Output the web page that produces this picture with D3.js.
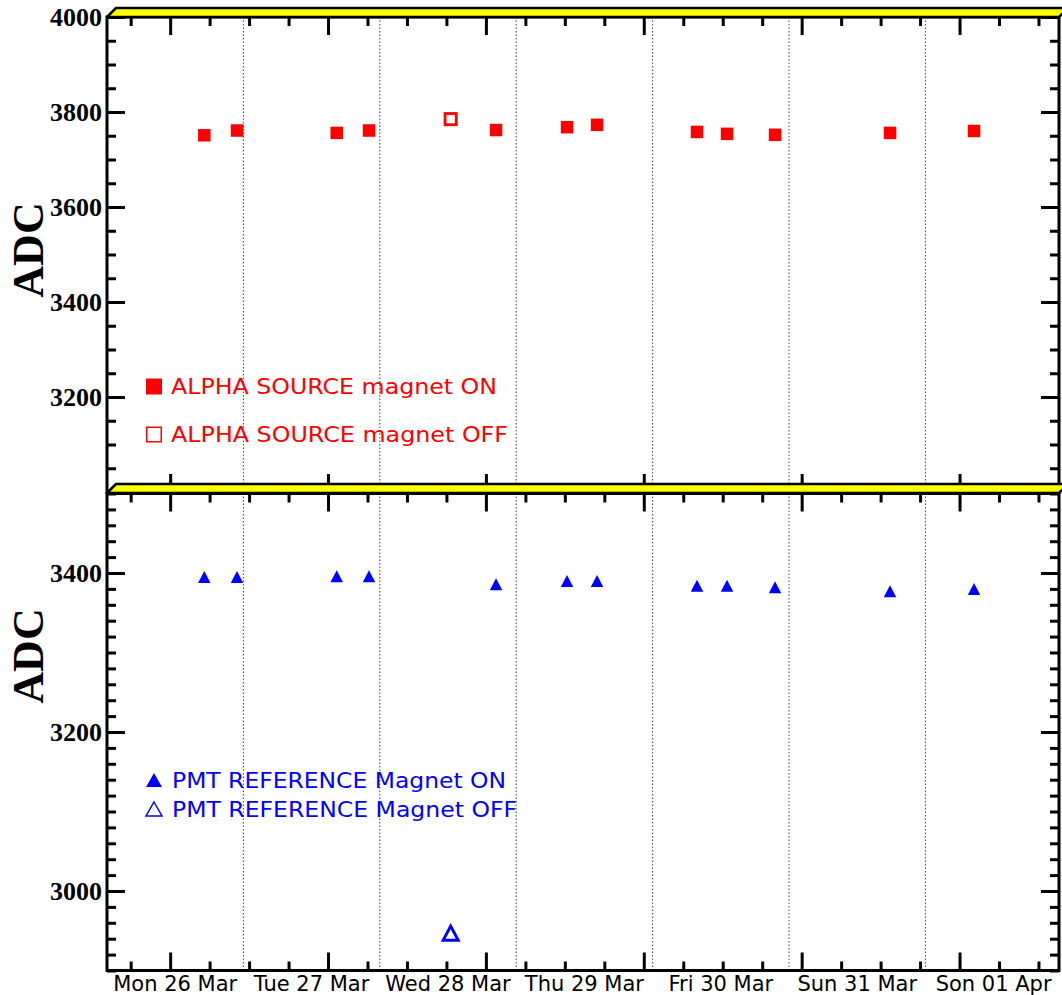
<!DOCTYPE html>
<html><head><meta charset="utf-8">
<script src="https://cdn.jsdelivr.net/npm/d3@7"></script>
<style>body{margin:0;background:#fff} svg{display:block}</style></head>
<body>
<svg id="c" width="1062" height="995"></svg>
<script>
// ---- data (time in hours since Mon 26 Mar 00:00) ----
const dayLabels = ["Mon 26 Mar","Tue 27 Mar","Wed 28 Mar","Thu 29 Mar","Fri 30 Mar","Sun 31 Mar","Son 01 Apr"];
const dayLabelHours = [12,36,60,84,108,132,156];
const dayBoundaryHours = [24,48,72,96,120,144];

const onHours   = [17.12,22.87,40.42,46.10,68.45,80.94,86.22,103.81,109.09,117.54,137.77,152.55];
const alphaOnADC = [3751,3761,3756,3761,3762,3768,3773,3758,3754,3752,3756,3760];
const pmtOnADC   = [3395,3395,3396,3396,3386,3390,3390,3384,3384,3382,3377,3380];
const offHours   = [60.47];
const alphaOffADC = [3785];
const pmtOffADC   = [2947];

const topTickLabels = [3200,3400,3600,3800,4000];
const botTickLabels = [3000,3200,3400];
const alphaLegend = ["ALPHA SOURCE magnet ON","ALPHA SOURCE magnet OFF"];
const pmtLegend = ["PMT REFERENCE Magnet ON","PMT REFERENCE Magnet OFF"];

// ---- layout ----
const L = 107, R = 1059;
const topY0 = 17, topY1 = 492, botY0 = 493.5, botY1 = 970.5;
const RED = "#ff0000", BLUE = "#0000ff";

const svg = d3.select("#c");
svg.append("rect").attr("width",1062).attr("height",995).attr("fill","#fff");

const x = d3.scaleLinear().domain([0,167.5]).range([L,R]);
const yTop = d3.scaleLinear().domain([3000,4000]).range([topY1,topY0]);
const yBot = d3.scaleLinear().domain([2900,3500]).range([botY1,botY0]);

const xMajor = d3.range(0,6).map(i => 40000/3600 + i*100000/3600);
const xMinor = d3.range(0,7*4).map(i => 15000/3600 + i*25000/3600).filter(v => v < 167.5 && !xMajor.some(m => Math.abs(m-v)<1e-6));

// dotted day lines
svg.append("g").selectAll("line").data(dayBoundaryHours).join("line")
  .attr("x1",d=>x(d)).attr("x2",d=>x(d)).attr("y1",topY0).attr("y2",botY1)
  .attr("stroke","#444").attr("stroke-width",1).attr("stroke-dasharray","1.5,2");

function styleAxis(g){
  g.selectAll(".domain").remove();
  g.selectAll(".tick line").attr("stroke","#000").attr("stroke-width",3);
}

function panel(y, y0, y1, minorStep, labels){
  const dom = y.domain();
  const minors = d3.range(Math.ceil(dom[0]/minorStep)*minorStep, dom[1]+0.001, minorStep).filter(v => v%200!==0);
  const majAll = d3.range(Math.ceil(dom[0]/200)*200, dom[1]+0.001, 200);
  svg.append("g").attr("transform",`translate(${L},0)`)
    .call(d3.axisLeft(y).tickValues(majAll).tickSizeInner(-18).tickSizeOuter(0).tickPadding(5)
      .tickFormat(d => labels.includes(d) ? d : ""))
    .call(styleAxis)
    .call(g => g.selectAll("text").attr("font-family","Liberation Serif").attr("font-weight","bold")
      .attr("font-size",26).attr("fill","#000"));
  svg.append("g").attr("transform",`translate(${L},0)`)
    .call(d3.axisLeft(y).tickValues(minors).tickSizeInner(-9).tickSizeOuter(0).tickFormat(""))
    .call(styleAxis);
  svg.append("g").attr("transform",`translate(${R},0)`)
    .call(d3.axisRight(y).tickValues(majAll).tickSizeInner(-18).tickSizeOuter(0).tickFormat(""))
    .call(styleAxis);
  svg.append("g").attr("transform",`translate(${R},0)`)
    .call(d3.axisRight(y).tickValues(minors).tickSizeInner(-9).tickSizeOuter(0).tickFormat(""))
    .call(styleAxis);
  svg.append("g").attr("transform",`translate(0,${y0})`)
    .call(d3.axisTop(x).tickValues(xMajor).tickSizeInner(-18).tickSizeOuter(0).tickFormat("")).call(styleAxis);
  svg.append("g").attr("transform",`translate(0,${y0})`)
    .call(d3.axisTop(x).tickValues(xMinor).tickSizeInner(-9).tickSizeOuter(0).tickFormat("")).call(styleAxis);
  svg.append("g").attr("transform",`translate(0,${y1})`)
    .call(d3.axisBottom(x).tickValues(xMajor).tickSizeInner(-18).tickSizeOuter(0).tickFormat("")).call(styleAxis);
  svg.append("g").attr("transform",`translate(0,${y1})`)
    .call(d3.axisBottom(x).tickValues(xMinor).tickSizeInner(-9).tickSizeOuter(0).tickFormat("")).call(styleAxis);
  svg.append("rect").attr("x",L).attr("y",y0).attr("width",R-L).attr("height",y1-y0)
    .attr("fill","none").attr("stroke","#000").attr("stroke-width",3);
}
panel(yTop, topY0, topY1, 50, topTickLabels);
panel(yBot, botY0, botY1, 20, botTickLabels);

// break bands (yellow)
function band(yb){
  const h = 9;
  svg.append("path")
    .attr("d", d3.line()([[L,yb],[L+h,yb-h],[R+h,yb-h],[R,yb]]) + "Z")
    .attr("fill","#ffff00").attr("stroke","#000").attr("stroke-width",2.5).attr("stroke-linejoin","round");
}
band(topY0);
band(botY0 - 0.5);

// y titles
[250,656].forEach(cy => {
  svg.append("text").attr("transform",`translate(43,${cy}) rotate(-90)`)
    .attr("text-anchor","middle").attr("font-family","Liberation Serif").attr("font-weight","bold")
    .attr("font-size",44).text("ADC");
});

// x labels
svg.append("g").selectAll("text").data(dayLabels).join("text")
  .attr("x",(d,i)=>x(dayLabelHours[i])).attr("y",991)
  .attr("text-anchor","middle").attr("font-family","DejaVu Sans").attr("font-size",21).attr("fill","#000")
  .text(d=>d);

// markers
function triPath(w,h){ return `M0,${-h/2}L${w/2},${h/2}L${-w/2},${h/2}Z`; }

svg.append("g").selectAll("rect").data(onHours).join("rect")
  .attr("x",(d)=>x(d)-6.25).attr("y",(d,i)=>yTop(alphaOnADC[i])-6.25)
  .attr("width",12.5).attr("height",12.5).attr("fill",RED);
svg.append("g").selectAll("rect").data(offHours).join("rect")
  .attr("x",(d)=>x(d)-5.6).attr("y",(d,i)=>yTop(alphaOffADC[i])-5.6)
  .attr("width",11.2).attr("height",11.2).attr("fill","none").attr("stroke",RED).attr("stroke-width",2.8);

svg.append("g").selectAll("path").data(onHours).join("path")
  .attr("transform",(d,i)=>`translate(${x(d)},${yBot(pmtOnADC[i])})`)
  .attr("d",triPath(12.5,12)).attr("fill",BLUE);
svg.append("g").selectAll("path").data(offHours).join("path")
  .attr("transform",(d,i)=>`translate(${x(d)},${yBot(pmtOffADC[i])})`)
  .attr("d",triPath(15,14)).attr("fill","none").attr("stroke",BLUE).attr("stroke-width",3).attr("stroke-linejoin","miter");

// legends
const lgFont = {fam:"DejaVu Sans", size:22};
alphaLegend.forEach((t,i) => {
  const cy = 386.5 + i*48;
  if (i===0) svg.append("rect").attr("x",146).attr("y",cy-8).attr("width",16).attr("height",16).attr("fill",RED);
  else svg.append("rect").attr("x",146.75).attr("y",cy-7.25).attr("width",14.5).attr("height",14.5).attr("fill","none").attr("stroke",RED).attr("stroke-width",1.5);
  svg.append("text").attr("x",171).attr("y",cy+7.5).attr("font-family",lgFont.fam).attr("font-size",lgFont.size)
    .attr("fill",RED).attr("textLength", i===0?326:337).attr("lengthAdjust","spacingAndGlyphs").text(t);
});
pmtLegend.forEach((t,i) => {
  const cy = 780 + i*29;
  const p = svg.append("path").attr("transform",`translate(154,${cy})`).attr("d",triPath(16,14));
  if (i===0) p.attr("fill",BLUE); else p.attr("fill","none").attr("stroke",BLUE).attr("stroke-width",1.5);
  svg.append("text").attr("x",172).attr("y",cy+7.5).attr("font-family",lgFont.fam).attr("font-size",lgFont.size)
    .attr("fill",BLUE).attr("textLength", i===0?334:345).attr("lengthAdjust","spacingAndGlyphs").text(t);
});
</script>
</body></html>
